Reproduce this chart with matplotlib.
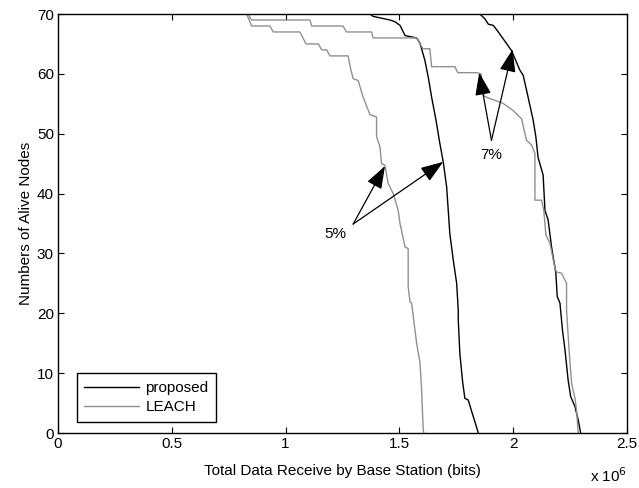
import matplotlib
matplotlib.use('Agg')
import matplotlib.pyplot as plt

plt.rcParams['font.family'] = ['Liberation Sans', 'DejaVu Sans']

# total data received (x 10^6 bits) vs alive nodes
prop5_x = [1.371, 1.385, 1.459, 1.481, 1.503, 1.525, 1.576, 1.591, 1.612, 1.627, 1.642, 1.661,
           1.678, 1.693, 1.708, 1.715, 1.722, 1.737, 1.752, 1.759, 1.759, 1.766, 1.778, 1.788,
           1.803, 1.818, 1.832, 1.847]
prop5_y = [70, 69.6, 69, 68.7, 68.1, 66.4, 66, 65.1, 62.3, 59.5, 56.1, 52.3,
           48.4, 45.3, 41.1, 37.2, 33.3, 28.9, 25, 20.5, 18.9, 13.3, 8.6, 5.8,
           5.5, 3.6, 1.9, 0]

leach5_x = [0.829, 0.851, 0.931, 0.946, 1.063, 1.090, 1.144, 1.159, 1.181, 1.195, 1.275, 1.285,
            1.297, 1.319, 1.341, 1.371, 1.385, 1.400, 1.400, 1.415, 1.422, 1.437, 1.451, 1.473,
            1.495, 1.503, 1.525, 1.539, 1.539, 1.547, 1.554, 1.576, 1.591, 1.598, 1.605, 1.608]
leach5_y = [70, 68, 68, 67, 67, 65, 65, 64, 64, 63, 63, 61,
            59.2, 58.9, 56.1, 53.2, 53, 52.8, 49.5, 47.8, 45, 44.7, 41.7, 40,
            37.2, 35, 31.1, 30.8, 24.4, 21.9, 21.7, 15, 11.7, 7.2, 0.5, 0]

leach7_x = [0.835, 0.851, 1.107, 1.115, 1.252, 1.268, 1.378, 1.385, 1.576, 1.591, 1.604, 1.634,
            1.642, 1.744, 1.757, 1.840, 1.859, 1.872, 1.889, 1.955, 1.999, 2.037, 2.059, 2.081,
            2.096, 2.096, 2.125, 2.135, 2.144, 2.162, 2.184, 2.191, 2.213, 2.235, 2.235, 2.246,
            2.257, 2.272, 2.279, 2.286]
leach7_y = [70, 69, 69, 68, 68, 67, 67, 66, 66, 65, 64.2, 64.2,
            61.2, 61.2, 60.2, 60.2, 60, 56.3, 56, 55.1, 53.9, 52.5, 48.9, 48.1,
            46.7, 38.9, 38.9, 37.2, 33.1, 31.7, 27.5, 26.9, 26.7, 25, 20.5, 13.9,
            8.3, 5.8, 3.8, 0]

prop7_x = [1.854, 1.876, 1.891, 1.913, 1.935, 1.993, 2.030, 2.044, 2.059, 2.088, 2.100, 2.110,
           2.132, 2.140, 2.154, 2.169, 2.188, 2.194, 2.206, 2.217, 2.228, 2.242, 2.253, 2.272,
           2.286, 2.297]
prop7_y = [70, 69.2, 68.3, 68.1, 67, 63.9, 60.6, 59.8, 57.3, 52.3, 49.5, 46,
           43.1, 37.2, 35.6, 31.1, 26.7, 22.8, 21.7, 17.2, 13.9, 8.8, 6.1, 4.4,
           2.2, 0]

gray = '#909090'
fs = 11

fig = plt.figure(figsize=(6.39, 4.88), dpi=100)
ax = fig.add_axes([0.0908, 0.1127, 0.8902, 0.8586])

ax.plot(prop5_x, prop5_y, color='black', lw=1, label='proposed')
ax.plot(leach5_x, leach5_y, color=gray, lw=1, label='LEACH')
ax.plot(prop7_x, prop7_y, color='black', lw=1)
ax.plot(leach7_x, leach7_y, color=gray, lw=1)

ax.set_xlim(0, 2.5)
ax.set_ylim(0, 70)
ax.set_xticks([0, 0.5, 1, 1.5, 2, 2.5])
ax.set_xticklabels(['0', '0.5', '1', '1.5', '2', '2.5'])
ax.set_yticks(range(0, 71, 10))
ax.tick_params(direction='in', top=True, right=True, length=4, labelsize=fs, pad=3)
for s in ax.spines.values():
    s.set_linewidth(1)

ax.set_xlabel('Total Data Receive by Base Station (bits)', fontsize=fs, labelpad=9)
ax.set_ylabel('Numbers of Alive Nodes', fontsize=fs, labelpad=3)
ax.text(2.5, -7.2, 'x 10$^6$', fontsize=fs, ha='right', va='center')

arr = dict(arrowstyle='-|>,head_length=0.7,head_width=0.25', color='black', lw=0.9,
           mutation_scale=20, shrinkA=0, shrinkB=0)
ax.text(1.221, 33.2, '5%', fontsize=fs, ha='center', va='center')
ax.annotate('', xy=(1.437, 44.6), xytext=(1.297, 34.9), arrowprops=arr)
ax.annotate('', xy=(1.693, 45.3), xytext=(1.297, 34.9), arrowprops=arr)
ax.text(1.905, 46.4, '7%', fontsize=fs, ha='center', va='center')
ax.annotate('', xy=(1.851, 60.2), xytext=(1.905, 48.9), arrowprops=arr)
ax.annotate('', xy=(1.998, 64.1), xytext=(1.905, 48.9), arrowprops=arr)

leg = ax.legend(loc='lower left', bbox_to_anchor=(0.033, 0.026), fontsize=fs,
                fancybox=False, framealpha=1, edgecolor='black', handlelength=3.6,
                handletextpad=0.4, borderpad=0.5, labelspacing=0.35, borderaxespad=0)
leg.get_frame().set_linewidth(1)

fig.savefig('out.png', dpi=100)
